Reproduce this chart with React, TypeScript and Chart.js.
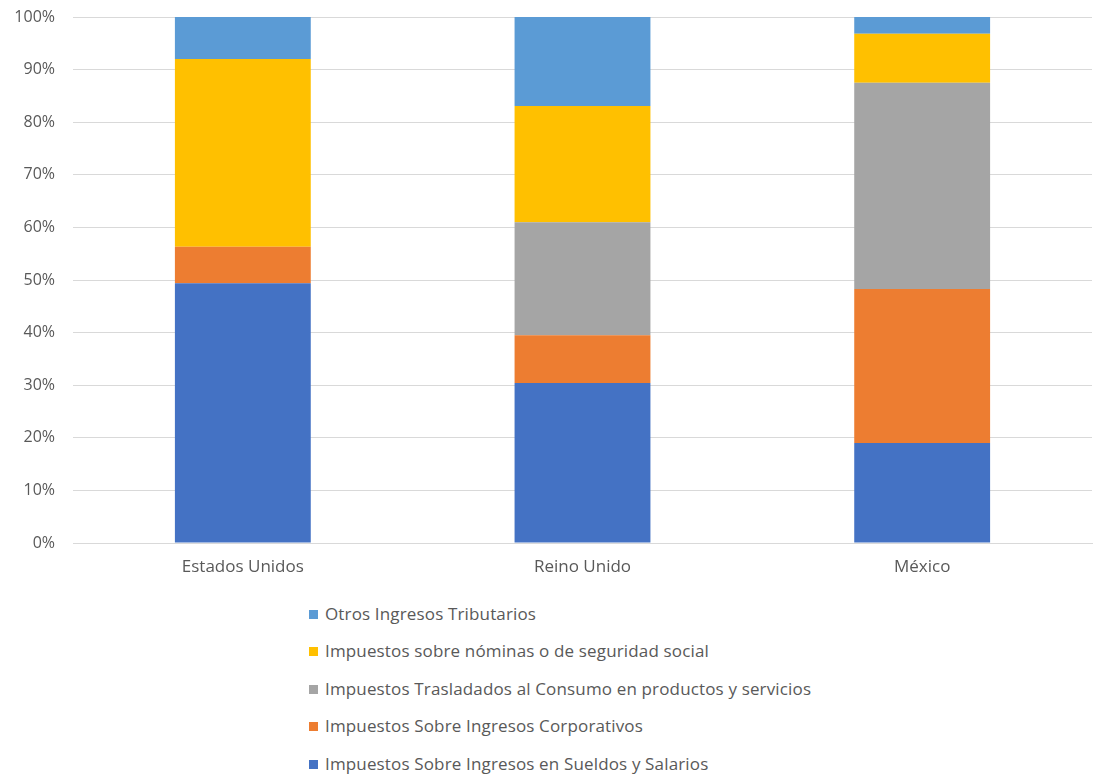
import React, { useEffect, useRef } from "react";
import { Chart, registerables } from "chart.js";

Chart.register(...registerables);

const categories = ["Estados Unidos", "Reino Unido", "México"];
const seriesNames = [
  "Impuestos Sobre Ingresos en Sueldos y Salarios",
  "Impuestos Sobre Ingresos Corporativos",
  "Impuestos Trasladados al Consumo en productos y servicios",
  "Impuestos sobre nóminas o de seguridad social",
  "Otros Ingresos Tributarios",
];
const seriesColors = ["#4472C4", "#ED7D31", "#A5A5A5", "#FFC000", "#5B9BD5"];
const sueldos = [49.4, 30.4, 19.0];
const corporativos = [6.9, 9.1, 29.3];
const consumo = [0, 21.5, 39.2];
const nominas = [35.7, 22.1, 9.3];
const otros = [8.0, 16.9, 3.2];
const seriesValues = [sueldos, corporativos, consumo, nominas, otros];
const yTicks = [0, 10, 20, 30, 40, 50, 60, 70, 80, 90, 100];

const FONT = "'Open Sans', sans-serif";
const TEXT = "#595959";

export default function App() {
  const ref = useRef<HTMLCanvasElement | null>(null);

  useEffect(() => {
    if (!ref.current) return;
    const chart = new Chart(ref.current, {
      type: "bar",
      data: {
        labels: categories,
        datasets: seriesNames.map((name, i) => ({
          label: name,
          data: seriesValues[i],
          backgroundColor: seriesColors[i],
          borderWidth: 0,
          barPercentage: 0.4,
          categoryPercentage: 1,
        })),
      },
      options: {
        animation: false,
        responsive: false,
        maintainAspectRatio: false,
        layout: { padding: { left: 8, right: 4, top: 17, bottom: 0 } },
        plugins: {
          legend: { display: false },
          tooltip: { enabled: false },
        },
        scales: {
          x: {
            stacked: true,
            grid: { display: false, drawTicks: false },
            border: { display: true, color: "#D9D9D9", width: 1 },
            ticks: {
              color: TEXT,
              font: { family: FONT, size: 17 },
              padding: 14,
            },
            afterFit: (scale: any) => {
              scale.height = 47;
              scale.paddingLeft = 0;
              scale.paddingRight = 0;
            },
          },
          y: {
            stacked: true,
            min: 0,
            max: 100,
            afterBuildTicks: (scale: any) => {
              scale.ticks = yTicks.map((v) => ({ value: v }));
            },
            grid: { color: "#D9D9D9", lineWidth: 1, drawTicks: false },
            border: { display: false },
            ticks: {
              color: TEXT,
              font: { family: FONT, size: 16 },
              padding: 18,
              callback: (v: any) => v + "%",
            },
            afterFit: (scale: any) => {
              scale.width = 65;
              scale.paddingTop = 0;
              scale.paddingBottom = 0;
            },
          },
        },
      },
    });
    return () => chart.destroy();
  }, []);

  const legendOrder = [4, 3, 2, 1, 0];

  return (
    <div
      style={{
        position: "absolute",
        left: 0,
        top: 0,
        width: 1096,
        height: 775,
        background: "#fff",
        fontFamily: FONT,
      }}
    >
      <canvas ref={ref} width={1096} height={590} style={{ display: "block" }} />
      {legendOrder.map((idx, row) => (
        <div
          key={idx}
          style={{
            position: "absolute",
            left: 309,
            top: 613 + row * 37.6 - 12,
            height: 24,
            display: "flex",
            alignItems: "center",
            whiteSpace: "nowrap",
            color: TEXT,
            fontSize: 17,
            letterSpacing: 0.15,
          }}
        >
          <span
            style={{
              display: "inline-block",
              width: 9,
              height: 9,
              background: seriesColors[idx],
              marginRight: 7,
              marginTop: 2,
            }}
          />
          <span>{seriesNames[idx]}</span>
        </div>
      ))}
    </div>
  );
}
